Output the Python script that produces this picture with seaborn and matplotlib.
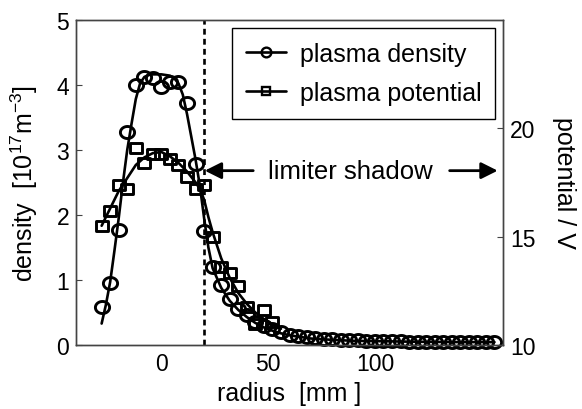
import numpy as np
import pandas as pd
import matplotlib
matplotlib.use("Agg")
import matplotlib.pyplot as plt
from matplotlib.path import Path
from matplotlib.lines import Line2D
import seaborn as sns

# ---------------- data ----------------
radius_mm = [-28, -24, -20, -16, -12, -8, -4, 0, 4, 8, 12, 16, 20, 24, 28, 32,
             36, 40, 44, 48, 52, 56, 60, 64, 68, 72, 76, 80, 84, 88, 92, 96,
             100, 104, 108, 112, 116, 120, 124, 128, 132, 136, 140, 144, 148,
             152, 156]
density = [0.59, 0.95, 1.77, 3.28, 4.00, 4.12, 4.10, 3.96, 4.05, 4.05, 3.72,
           2.79, 1.75, 1.20, 0.92, 0.71, 0.56, 0.46, 0.36, 0.29, 0.24, 0.20,
           0.16, 0.14, 0.12, 0.11, 0.10, 0.09, 0.08, 0.075, 0.07, 0.065, 0.06,
           0.06, 0.055, 0.055, 0.05, 0.05, 0.05, 0.05, 0.045, 0.045, 0.045,
           0.045, 0.045, 0.045, 0.045]

pot_radius_mm = [-28, -24, -20, -16, -12, -8, -4, 0, 4, 8, 12, 16, 20, 24, 28,
                 32, 36, 40, 44, 48, 52]
potential = [15.5, 16.2, 17.4, 17.2, 19.1, 18.4, 18.8, 18.8, 18.6, 18.3, 17.75,
             17.2, 17.4, 15.0, 13.6, 13.3, 12.7, 11.75, 10.95, 11.6, 11.05]

# fitted curves
dens_fit_x = [-28, -26, -24, -22, -20, -18, -16, -14, -12, -10, -8, -6, -4, 0,
              4, 6, 8, 10, 12, 14, 16, 18, 20, 22, 24, 28, 32, 36, 40, 44, 48,
              52, 56, 60, 70, 80, 90, 100, 120, 140, 156]
dens_fit_y = [0.33, 0.62, 0.97, 1.45, 1.95, 2.5, 3.0, 3.4, 3.78, 4.02, 4.12,
              4.15, 4.16, 4.16, 4.14, 4.1, 4.02, 3.85, 3.55, 3.2, 2.85, 2.45,
              1.95, 1.5, 1.18, 0.88, 0.68, 0.54, 0.43, 0.34, 0.27, 0.22, 0.18,
              0.15, 0.10, 0.08, 0.065, 0.06, 0.05, 0.045, 0.045]

pot_fit_x = [-28, -24, -20, -16, -12, -8, -4, 0, 4, 8, 12, 16, 18, 20, 22, 24,
             28, 32, 36, 40, 44, 48, 52, 56]
pot_fit_y = [15.5, 16.3, 17.1, 17.7, 18.3, 18.65, 18.85, 18.9, 18.7, 18.4,
             18.0, 17.5, 17.2, 16.7, 15.9, 15.2, 14.0, 13.1, 12.4, 11.9, 11.5,
             11.2, 10.95, 10.75]

limiter_x = 20
series_labels = ["plasma density", "plasma potential"]
x_ticks = [0, 50, 100]
left_ticks = [0, 1, 2, 3, 4, 5]
right_ticks = [10, 15, 20]

# ---------------- style ----------------
sns.set_style("white")
plt.rcParams["font.family"] = ["Liberation Sans", "DejaVu Sans"]
plt.rcParams["mathtext.fontset"] = "custom"
plt.rcParams["mathtext.rm"] = "Liberation Sans"
plt.rcParams["mathtext.it"] = "Liberation Sans:italic"
plt.rcParams["mathtext.default"] = "regular"
for k in ("text.color", "axes.labelcolor", "xtick.color", "ytick.color"):
    plt.rcParams[k] = "black"

def ellipse_marker(aspect):
    t = np.linspace(0, 2 * np.pi, 65)
    v = np.column_stack([np.cos(t), aspect * np.sin(t)])
    return Path(v, closed=True)

def rect_marker(aspect):
    v = [(-1, -aspect), (1, -aspect), (1, aspect), (-1, aspect), (-1, -aspect)]
    return Path(v, closed=True)

circ = ellipse_marker(0.85)
sq = rect_marker(0.86)

fig = plt.figure(figsize=(5.82, 4.10), dpi=100)
ax = fig.add_axes([0.1306, 0.156, 0.7337, 0.7935])
ax2 = ax.twinx()

df_d = pd.DataFrame({"r": radius_mm, "n": density})
df_df = pd.DataFrame({"r": dens_fit_x, "n": dens_fit_y})
df_p = pd.DataFrame({"r": pot_radius_mm, "v": potential})
df_pf = pd.DataFrame({"r": pot_fit_x, "v": pot_fit_y})

lw = 1.9
mew = 2.1
sns.lineplot(data=df_df, x="r", y="n", ax=ax, color="black", lw=lw,
             sort=False, estimator=None)
sns.lineplot(data=df_d, x="r", y="n", ax=ax, color="black", ls="",
             marker=circ, markersize=10.2, mfc="none", mec="black", mew=mew,
             sort=False, estimator=None, clip_on=False)

sns.lineplot(data=df_pf, x="r", y="v", ax=ax2, color="black", lw=lw,
             sort=False, estimator=None)
sns.lineplot(data=df_p, x="r", y="v", ax=ax2, color="black", ls="",
             marker=sq, markersize=8.3, mfc="none", mec="black", mew=mew,
             sort=False, estimator=None, clip_on=False)

# limiter line
ax.axvline(limiter_x, color="black", ls=(0, (2.2, 1.6)), lw=1.9, zorder=1)

# arrows + text
ax.annotate("", xy=(20.3, 2.68), xytext=(43, 2.68),
            arrowprops=dict(arrowstyle="-|>", color="black", lw=2.0,
                            mutation_scale=25, shrinkA=0, shrinkB=0))
ax.annotate("", xy=(157.5, 2.68), xytext=(135, 2.68),
            arrowprops=dict(arrowstyle="-|>", color="black", lw=2.0,
                            mutation_scale=25, shrinkA=0, shrinkB=0))
ax.text(88.5, 2.68, "limiter shadow", ha="center", va="center", fontsize=18.5)

# axes
ax.set_xlim(-40, 160)
ax.set_ylim(0, 5)
ax2.set_ylim(10, 25)
ax.set_xticks(x_ticks)
ax.set_yticks(left_ticks)
ax2.set_yticks(right_ticks)
ax.set_xlabel("radius  [mm ]", fontsize=18, labelpad=4)
ax.set_ylabel("density  [10$^{17}$m$^{-3}$]", fontsize=18, labelpad=12)
ax2.set_ylabel("potential / V", fontsize=18, rotation=270, labelpad=29)

for a in (ax, ax2):
    a.tick_params(direction="in", length=4, width=0.8, labelsize=16.5,
                  color="#444444", pad=5)
    for s in a.spines.values():
        s.set_color("#444444")
        s.set_linewidth(1.0)
ax.tick_params(axis="y", right=False)
ax2.tick_params(axis="y", left=False)

# legend
handles = [
    Line2D([], [], color="black", lw=lw, marker="o", markersize=7,
           mfc="none", mec="black", mew=1.7),
    Line2D([], [], color="black", lw=lw, marker="s", markersize=6,
           mfc="none", mec="black", mew=1.7),
]
leg = ax2.legend(handles, series_labels, loc="upper right",
                 bbox_to_anchor=(0.981, 0.974), fontsize=18,
                 frameon=True, fancybox=False, framealpha=1,
                 edgecolor="black", handlelength=1.6, handletextpad=0.55,
                 labelspacing=0.6, borderpad=0.55, borderaxespad=0)
leg.get_frame().set_linewidth(1.0)

fig.savefig("out.png", dpi=100)
